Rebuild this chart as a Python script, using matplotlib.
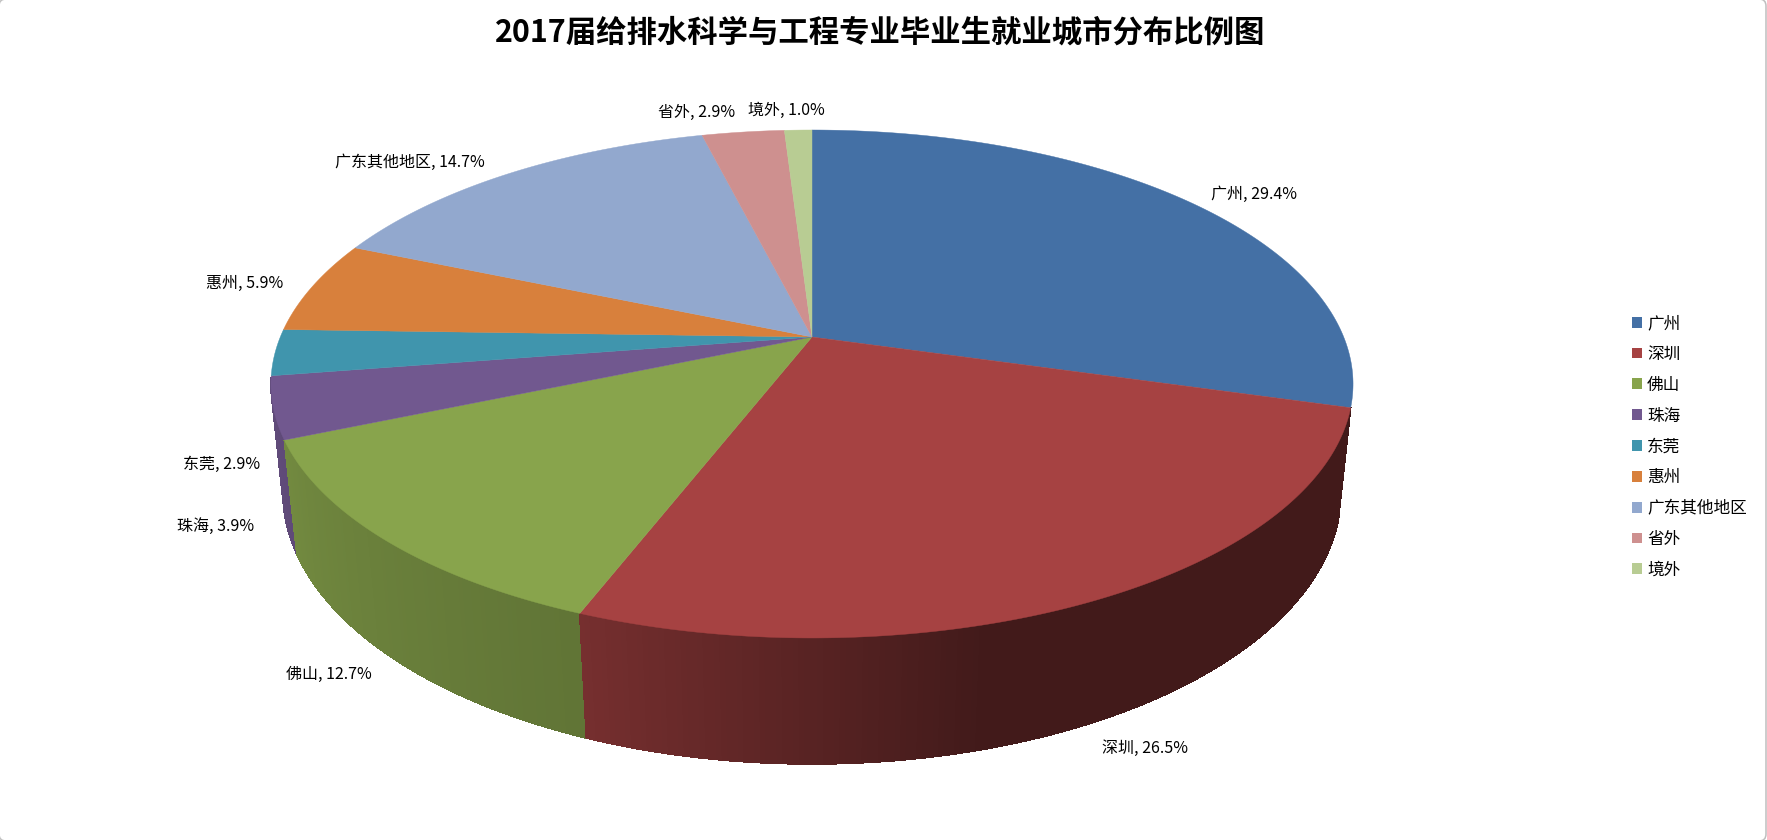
import numpy as np
import matplotlib
matplotlib.use("Agg")
import matplotlib.pyplot as plt
from matplotlib.collections import PolyCollection
from matplotlib.patches import FancyBboxPatch, Patch

plt.rcParams['font.family'] = ['Noto Sans CJK SC', 'DejaVu Sans']

TITLE = '2017届给排水科学与工程专业毕业生就业城市分布比例图'
categories = ['广州', '深圳', '佛山', '珠海', '东莞', '惠州', '广东其他地区', '省外', '境外']
values = [29.41, 26.47, 12.74, 3.92, 2.94, 5.88, 14.71, 2.94, 0.98]
colors = ['#4470A5', '#A64242', '#88A44C', '#71588F', '#4095AD', '#D8803C', '#92A8CE', '#CE908F', '#B8CC93']
label_pos = [(1254, 194), (1145, 748), (329, 674), (216, 526), (222, 464),
             (245, 283), (410, 162), (697, 112), (786, 110)]

# Projective planes of the 3-D pie: centre x, centre y, x scale, y scale, depth factor
TOP = (812, 337, 531.7, 245.3, 0.185)
BOTTOM = (812, 444, 520.6, 263.0, 0.178)
SHADE_ANGLE = [105, 165, 201, 247, 270]
SHADE_LEVEL = [0.40, 0.40, 0.71, 0.84, 0.88]


def project(theta_deg, plane):
    cx, cy, a, b, k = plane
    t = np.radians(theta_deg)
    u, v = np.sin(t), np.cos(t)
    w = 1 + k * v
    return np.column_stack([cx + a * u / w, cy - b * v / w])


fig = plt.figure(figsize=(17.67, 8.40), dpi=100, facecolor='white')
ax = fig.add_axes([0, 0, 1, 1])
ax.set_xlim(0, 1767)
ax.set_ylim(840, 0)
ax.axis('off')

ax.add_patch(FancyBboxPatch((-1, -1), 1767, 842, boxstyle='round,pad=0,rounding_size=7',
                            fc='white', ec='#BFBFBF', lw=1.1, clip_on=True))

edges = 360 * np.concatenate([[0], np.cumsum(values)]) / np.sum(values)

# side wall: only the front-facing strips, sorted from the back of the pie to the front
strips = []
for i, col in enumerate(colors):
    if i == 0:
        continue  # the first slice's wall is hidden behind its top face
    n = max(int((edges[i + 1] - edges[i]) / 0.5), 2)
    th = np.linspace(edges[i], edges[i + 1], n + 1)
    t, b = project(th, TOP), project(th, BOTTOM)
    base = np.array(matplotlib.colors.to_rgb(col))
    for j in range(n):
        mid = (th[j] + th[j + 1]) / 2
        depth = np.cos(np.radians(mid))
        if depth < -0.16:
            strips.append((depth, [t[j], t[j + 1], b[j + 1], b[j]],
                           base * np.interp(mid, SHADE_ANGLE, SHADE_LEVEL)))
strips.sort(key=lambda s: -s[0])
ax.add_collection(PolyCollection([s[1] for s in strips], facecolors=[s[2] for s in strips],
                                 edgecolors=[s[2] for s in strips], linewidths=0.5,
                                 antialiaseds=False, zorder=2))

# top face
for i, col in enumerate(colors):
    th = np.linspace(edges[i], edges[i + 1], 200)
    arc = project(th, TOP)
    centre = np.array([[TOP[0], TOP[1]]])
    ax.fill(*np.vstack([centre, arc]).T, facecolor=col, edgecolor=col, linewidth=0.3, zorder=3)

ax.text(880, 33, TITLE, ha='center', va='center', fontsize=21.9, fontweight='bold', color='black')

for name, val, (x, y) in zip(categories, values, label_pos):
    ax.text(x, y, f'{name}, {val:.1f}%', ha='center', va='center', fontsize=11.5, color='black')

handles = [Patch(facecolor=c, edgecolor='none', label=n) for c, n in zip(colors, categories)]
ax.legend(handles=handles, loc='upper left', bbox_to_anchor=(1632 / 1767, 1 - 315 / 840), frameon=False,
          fontsize=12, handlelength=0.62, handleheight=0.62, handletextpad=0.28,
          labelspacing=0.83, borderpad=0, borderaxespad=0)

fig.savefig('out.png', dpi=100)
